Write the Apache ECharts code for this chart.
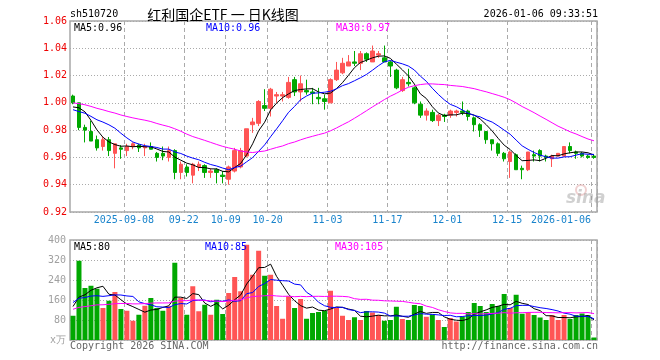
<!DOCTYPE html>
<html><head><meta charset="utf-8">
<script src="https://cdn.jsdelivr.net/npm/echarts@6/dist/echarts.min.js"></script>
<style>html,body{margin:0;padding:0;background:#fff}#c{width:660px;height:360px}</style>
</head><body><div id="c"></div>
<script>
// ---------- data ----------
const dates = [
'2025-08-26','2025-08-27','2025-08-28','2025-08-29',
'2025-09-01','2025-09-02','2025-09-03','2025-09-04','2025-09-05','2025-09-08','2025-09-09','2025-09-10','2025-09-11','2025-09-12',
'2025-09-15','2025-09-16','2025-09-17','2025-09-18','2025-09-19','2025-09-22','2025-09-23','2025-09-24','2025-09-25','2025-09-26',
'2025-09-29','2025-09-30',
'2025-10-09','2025-10-10','2025-10-13','2025-10-14','2025-10-15','2025-10-16','2025-10-17','2025-10-20','2025-10-21','2025-10-22',
'2025-10-23','2025-10-24','2025-10-27','2025-10-28','2025-10-29','2025-10-30','2025-10-31',
'2025-11-03','2025-11-04','2025-11-05','2025-11-06','2025-11-07','2025-11-10','2025-11-11','2025-11-12','2025-11-13','2025-11-14',
'2025-11-17','2025-11-18','2025-11-19','2025-11-20','2025-11-21','2025-11-24','2025-11-25','2025-11-26','2025-11-27','2025-11-28',
'2025-12-01','2025-12-02','2025-12-03','2025-12-04','2025-12-05','2025-12-08','2025-12-09','2025-12-10','2025-12-11','2025-12-12',
'2025-12-15','2025-12-16','2025-12-17','2025-12-18','2025-12-19','2025-12-22','2025-12-23','2025-12-24','2025-12-25','2025-12-26',
'2025-12-29','2025-12-30','2025-12-31',
'2026-01-05','2026-01-06'];

const opens = [1.005,1.000,0.982,0.979,0.973,0.968,0.973,0.963,0.967,0.965,
0.968,0.969,0.967,0.968,0.963,0.963,0.960,0.965,0.949,0.953,
0.947,0.953,0.954,0.949,0.951,0.947,0.944,0.950,0.953,0.961,
0.984,0.985,0.998,0.996,1.005,1.005,1.004,1.017,1.008,1.009,
1.008,1.004,1.003,1.000,1.017,1.022,1.027,1.030,1.029,1.036,
1.030,1.035,1.033,1.030,1.024,1.009,1.015,1.011,0.999,0.991,
0.993,0.987,0.991,0.991,0.993,0.994,0.994,0.989,0.984,0.979,
0.973,0.970,0.963,0.957,0.962,0.952,0.951,0.962,0.965,0.961,
0.959,0.961,0.961,0.968,0.964,0.963,0.961,0.961];

const closes = [1.000,0.982,0.980,0.972,0.967,0.973,0.965,0.970,0.966,0.968,
0.970,0.967,0.968,0.966,0.960,0.961,0.965,0.949,0.955,0.949,
0.955,0.955,0.949,0.950,0.949,0.946,0.953,0.965,0.965,0.981,
0.986,1.001,0.996,1.010,1.006,1.006,1.015,1.008,1.014,1.008,
1.007,1.003,1.001,1.017,1.024,1.029,1.030,1.029,1.036,1.032,
1.038,1.036,1.030,1.027,1.011,1.017,1.014,1.000,0.991,0.994,
0.987,0.991,0.990,0.994,0.994,0.993,0.990,0.984,0.980,0.973,
0.970,0.963,0.959,0.964,0.951,0.951,0.964,0.961,0.961,0.960,
0.961,0.963,0.968,0.965,0.963,0.961,0.960,0.960];

const lows = [0.999,0.980,0.971,0.972,0.965,0.965,0.961,0.952,0.959,0.961,
0.966,0.964,0.961,0.966,0.957,0.958,0.957,0.944,0.944,0.946,
0.941,0.950,0.945,0.945,0.941,0.941,0.940,0.949,0.952,0.960,
0.978,0.983,0.994,0.990,1.000,1.001,1.003,1.005,1.001,1.006,
0.999,0.999,0.995,1.000,1.016,1.021,1.027,1.027,1.024,1.030,
1.030,1.033,1.030,1.019,1.010,1.008,1.012,0.999,0.989,0.987,
0.986,0.983,0.986,0.989,0.990,0.991,0.987,0.979,0.975,0.970,
0.965,0.961,0.957,0.945,0.951,0.944,0.950,0.957,0.957,0.957,
0.953,0.961,0.961,0.963,0.959,0.960,0.959,0.959];

const highs = [1.006,1.000,0.984,0.987,0.976,0.975,0.975,0.970,0.969,0.970,
0.971,0.970,0.970,0.971,0.964,0.968,0.968,0.966,0.957,0.955,
0.956,0.957,0.955,0.952,0.952,0.950,0.954,0.967,0.967,0.981,
0.989,1.002,1.010,1.011,1.008,1.008,1.019,1.019,1.020,1.017,
1.011,1.011,1.006,1.018,1.030,1.033,1.035,1.038,1.038,1.037,
1.042,1.038,1.042,1.031,1.025,1.019,1.025,1.012,1.001,0.996,
0.995,0.992,0.992,0.995,0.995,1.001,0.995,0.990,0.985,0.979,
0.973,0.971,0.964,0.965,0.963,0.954,0.964,0.965,0.966,0.962,
0.962,0.963,0.968,0.971,0.965,0.964,0.962,0.962];

// volume (10k units)
const volumes = [97,317,208,217,205,128,157,192,124,117,
77,101,137,168,128,117,135,309,168,101,
215,115,141,101,161,104,188,252,195,381,
261,357,257,261,136,85,175,128,164,85,
108,112,117,197,128,97,80,91,80,116,
110,100,77,80,133,84,80,140,136,93,
102,80,52,88,74,94,112,148,136,112,
144,136,184,128,181,105,112,100,90,80,
100,80,100,84,100,106,100,10];

// estimated sessions before the visible window (only feed the moving averages)
const priorCloses = [1.000,1.004,1.008,1.010,1.006,1.003,1.005,1.007,1.002,
0.998,0.995,0.993,0.996,1.000,0.999,0.997,0.998,
1.008,1.012,1.010,
0.996,0.992,0.995,0.992,
0.990,0.985,0.995,1.003,1.002];
const priorVolumes = [95,110,120,100,110,
105,120,98,112,130,95,108,115,102,118,125,100,110,107,110,
150,175,160,190,155,
130,160,128,155];

const tickDates  = ['2025-09-08','2025-09-22','2025-10-09','2025-10-20','2025-11-03','2025-11-17','2025-12-01','2025-12-15','2026-01-06'];
const tickLabels = ['2025-09-08','09-22','10-09','10-20','11-03','11-17','12-01','12-15','2026-01-06'];
const priceTicks = [0.92, 1.06, 0.02];
const volTicks = [0, 400, 80];

const headerCode = 'sh510720';
const headerTitle = '红利国企ETF 一 日K线图';
const headerTime = '2026-01-06 09:33:51';
const priceLegend = ['MA5:0.96', 'MA10:0.96', 'MA30:0.97'];
const volLegend = ['MA5:80', 'MA10:85', 'MA30:105'];

// ---------- build ----------
const UP = '#ff5555', DOWN = '#00a800';
const MONO = '"DejaVu Sans Mono", monospace';

function movingAvg(values, prior, n) {
  const all = prior.concat(values);
  return values.map((_, i) => {
    const end = prior.length + i;
    let s = 0;
    for (let k = end - n + 1; k <= end; k++) s += all[k];
    return +(s / n).toFixed(4);
  });
}

const candles = dates.map((d, i) => [opens[i], closes[i], lows[i], highs[i]]);
const volData = volumes.map((v, i) => ({ value: v, itemStyle: { color: closes[i] >= opens[i] ? UP : DOWN } }));
const pMA5 = movingAvg(closes, priorCloses, 5);
const pMA10 = movingAvg(closes, priorCloses, 10);
const pMA30 = movingAvg(closes, priorCloses, 30);
const vMA5 = movingAvg(volumes, priorVolumes, 5);
const vMA10 = movingAvg(volumes, priorVolumes, 10);
const vMA30 = movingAvg(volumes, priorVolumes, 30);

const tickSet = new Set(tickDates);
const showTick = (idx) => tickSet.has(dates[idx]);

const GL = 70, GW = 527;
const gridStyle = { show: true, borderColor: '#a8a8a8', borderWidth: 1.5, backgroundColor: 'transparent' };

function xAxisFor(gi, withLabels) {
  return {
    type: 'category', gridIndex: gi, data: dates, boundaryGap: true,
    axisLine: { show: false }, axisTick: { show: false, interval: showTick },
    axisLabel: withLabels ? {
      show: true, interval: showTick, margin: 3,
      color: '#1a84cc', fontFamily: MONO, fontSize: 10,
      formatter: (val) => {
        const k = tickDates.indexOf(val);
        if (k < 0) return '';
        return (k === tickDates.length - 1 ? '{r|' : '{c|') + tickLabels[k] + '}';
      },
      rich: {
        c: { padding: [0, 6, 0, 0], color: '#1a84cc', fontFamily: MONO, fontSize: 10 },
        r: { padding: [0, 66, 0, 0], color: '#1a84cc', fontFamily: MONO, fontSize: 10 }
      }
    } : { show: false },
    splitLine: { show: true, interval: showTick, lineStyle: { color: '#aaaaaa', width: 1, type: [4, 3] } }
  };
}

function line(name, data, color, xi, yi) {
  return { name, type: 'line', xAxisIndex: xi, yAxisIndex: yi, data, symbol: 'none', smooth: false,
    silent: true, z: 5, lineStyle: { width: 1, color }, itemStyle: { color } };
}

function txt(x, y, text, opt) {
  return Object.assign({ type: 'text', x, y, silent: true, z: 100,
    style: Object.assign({ text, font: '10px ' + MONO, fill: '#000', textAlign: 'left', textVerticalAlign: 'middle' }, opt || {}) });
}

const option = {
  animation: false,
  backgroundColor: '#ffffff',
  grid: [
    Object.assign({ left: GL, top: 21, width: GW, height: 191 }, gridStyle),
    Object.assign({ left: GL, top: 240, width: GW, height: 100 }, gridStyle)
  ],
  xAxis: [xAxisFor(0, true), xAxisFor(1, false)],
  yAxis: [
    { type: 'value', gridIndex: 0, min: priceTicks[0], max: priceTicks[1], interval: priceTicks[2], scale: true,
      axisLine: { show: false }, axisTick: { show: false },
      axisLabel: { color: '#ee0000', fontFamily: MONO, fontSize: 10, margin: 3, formatter: (v) => v.toFixed(2) },
      splitLine: { show: true, lineStyle: { color: '#aaaaaa', width: 1, type: [1, 2] } } },
    { type: 'value', gridIndex: 1, min: volTicks[0], max: volTicks[1], interval: volTicks[2],
      axisLine: { show: false }, axisTick: { show: false },
      axisLabel: { color: '#a0a0a0', fontFamily: MONO, fontSize: 10, margin: 4, formatter: (v) => v === 0 ? 'x万' : String(v) },
      splitLine: { show: true, lineStyle: { color: '#aaaaaa', width: 1, type: [1, 2] } } }
  ],
  series: [
    { type: 'candlestick', xAxisIndex: 0, yAxisIndex: 0, data: candles, barWidth: 4, silent: true,
      itemStyle: { color: UP, color0: DOWN, borderColor: UP, borderColor0: DOWN, borderWidth: 1 } },
    line('MA5', pMA5, '#000000', 0, 0),
    line('MA10', pMA10, '#0000ff', 0, 0),
    line('MA30', pMA30, '#ff00ff', 0, 0),
    { type: 'bar', xAxisIndex: 1, yAxisIndex: 1, data: volData, barWidth: 5, silent: true },
    line('VMA5', vMA5, '#000000', 1, 1),
    line('VMA10', vMA10, '#0000ff', 1, 1),
    line('VMA30', vMA30, '#ff00ff', 1, 1)
  ],
  graphic: [
    txt(70, 14, headerCode),
    txt(223, 15, headerTitle, { font: '14px "Noto Sans CJK SC", sans-serif', textAlign: 'center' }),
    txt(598, 14, headerTime, { textAlign: 'right' }),
    txt(74, 28, priceLegend[0], { fill: '#000000' }),
    txt(206, 28, priceLegend[1], { fill: '#0000ff' }),
    txt(336, 28, priceLegend[2], { fill: '#ff00ff' }),
    txt(74, 247, volLegend[0], { fill: '#000000' }),
    txt(205, 247, volLegend[1], { fill: '#0000ff' }),
    txt(335, 247, volLegend[2], { fill: '#ff00ff' }),
    txt(70, 346, 'Copyright 2026 SINA.COM', { fill: '#666666' }),
    txt(598, 346, 'http://finance.sina.com.cn', { fill: '#666666', textAlign: 'right' }),
    { type: 'circle', silent: true, z: 1, shape: { cx: 581, cy: 190, r: 5 }, style: { fill: 'none', stroke: 'rgba(220,150,150,0.45)', lineWidth: 2 } },
    txt(566, 199, 'sina', { font: 'italic bold 17px "DejaVu Sans", sans-serif', fill: 'rgba(150,150,150,0.45)' })
  ]
};

const chart = echarts.init(document.getElementById('c'), null, { renderer: 'canvas' });
chart.setOption(option);
</script>
</body></html>
